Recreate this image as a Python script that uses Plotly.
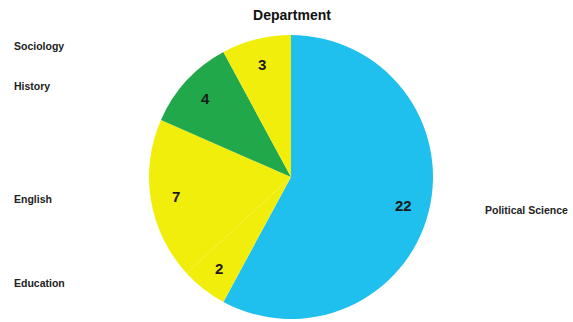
import math
import plotly.graph_objects as go

# Department counts, drawn clockwise from 12 o'clock
departments = ["Political Science", "Education", "English", "History", "Sociology"]
counts = [22, 2, 7, 4, 3]
slice_colors = ["#1FC0EE", "#F2EE0C", "#F2EE0C", "#21A84B", "#F2EE0C"]

W, H = 573, 322
FONT = "Arial, Liberation Sans, sans-serif"

# pie centre and radius in pixels
cx_px, cy_px, r_px = 291, 177, 142
dom_x = [(cx_px - r_px) / W, (cx_px + r_px) / W]
dom_y = [1 - (cy_px + r_px) / H, 1 - (cy_px - r_px) / H]

fig = go.Figure(go.Pie(
    labels=departments,
    values=counts,
    sort=False,
    direction="clockwise",
    rotation=0,
    marker=dict(colors=slice_colors, line=dict(width=0)),
    textinfo="none",
    domain=dict(x=dom_x, y=dom_y),
    showlegend=False,
    hoverinfo="label+value",
))

total = sum(counts)
acc = 0
annotations = []
for name, v in zip(departments, counts):
    mid = (acc + v / 2) / total * 2 * math.pi
    acc += v
    sx, cy = math.sin(mid), math.cos(mid)

    # value label inside the slice
    vr = 0.82 * r_px
    annotations.append(dict(
        x=(cx_px + vr * sx) / W, y=1 - (cy_px - vr * cy) / H,
        xref="paper", yref="paper", text=f"<b>{v}</b>", showarrow=False,
        xanchor="center", yanchor="middle",
        font=dict(family=FONT, size=15, color="#1A1A1A"),
    ))

    # category label at the page edge, level with the slice midpoint
    ly = 1 - (cy_px - 0.95 * r_px * cy) / H
    lx = 483 / W if sx >= 0 else 12 / W
    annotations.append(dict(
        x=lx, y=ly, xref="paper", yref="paper",
        text=f"<b>{name}</b>", showarrow=False, xanchor="left", yanchor="middle",
        font=dict(family=FONT, size=10.5, color="#222222"),
    ))

fig.update_layout(
    width=W, height=H,
    margin=dict(l=0, r=0, t=0, b=0),
    paper_bgcolor="#FFFFFF",
    plot_bgcolor="#FFFFFF",
    title=dict(
        text="<b>Department</b>",
        x=292 / W, xanchor="center", y=1 - 15 / H, yanchor="middle",
        font=dict(family=FONT, size=14, color="#111111"),
    ),
    annotations=annotations,
)

fig.write_html("out.html")
